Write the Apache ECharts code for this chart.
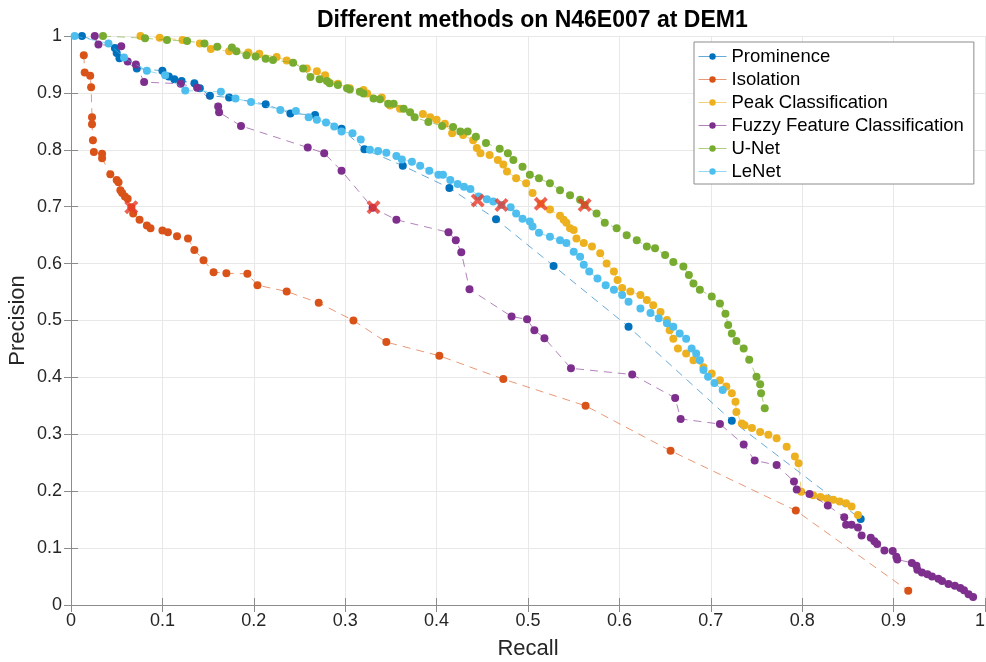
<!DOCTYPE html>
<html><head><meta charset="utf-8">
<script src="https://cdn.jsdelivr.net/npm/echarts@6/dist/echarts.min.js"></script>
<style>html,body{margin:0;padding:0;background:#fff}#c{width:986px;height:662px}</style>
</head><body><div id="c"></div>
<script>
const seriesNames = ['Prominence','Isolation','Peak Classification','Fuzzy Feature Classification','U-Net','LeNet'];
const xTicks = [0,0.1,0.2,0.3,0.4,0.5,0.6,0.7,0.8,0.9,1];
const yTicks = [0,0.1,0.2,0.3,0.4,0.5,0.6,0.7,0.8,0.9,1];

const prominence = [[0.012,1.0],[0.048,0.979],[0.05,0.97],[0.053,0.961],[0.072,0.943],[0.1,0.939],[0.107,0.929],[0.113,0.924],[0.121,0.921],[0.135,0.917],[0.141,0.908],[0.152,0.895],[0.173,0.892],[0.213,0.88],[0.24,0.864],[0.267,0.861],[0.296,0.837],[0.321,0.801],[0.363,0.772],[0.414,0.733],[0.465,0.678],[0.528,0.596],[0.61,0.489],[0.723,0.324],[0.864,0.151]];

const isolation = [[0.014,0.966],[0.015,0.936],[0.021,0.93],[0.022,0.91],[0.023,0.857],[0.023,0.845],[0.024,0.817],[0.025,0.796],[0.034,0.793],[0.034,0.785],[0.043,0.757],[0.05,0.747],[0.052,0.743],[0.054,0.729],[0.056,0.724],[0.059,0.718],[0.062,0.714],[0.066,0.699],[0.068,0.688],[0.075,0.677],[0.083,0.667],[0.087,0.662],[0.1,0.658],[0.106,0.655],[0.116,0.648],[0.128,0.644],[0.135,0.624],[0.145,0.606],[0.156,0.585],[0.17,0.583],[0.193,0.582],[0.204,0.562],[0.236,0.551],[0.271,0.531],[0.309,0.5],[0.345,0.462],[0.403,0.438],[0.473,0.397],[0.563,0.35],[0.656,0.271],[0.793,0.166],[0.916,0.025]];

const peak = [[0.076,1.0],[0.097,0.997],[0.122,0.993],[0.141,0.987],[0.153,0.977],[0.173,0.973],[0.194,0.971],[0.206,0.969],[0.225,0.963],[0.236,0.957],[0.258,0.943],[0.269,0.938],[0.278,0.931],[0.292,0.916],[0.305,0.908],[0.32,0.905],[0.324,0.899],[0.34,0.892],[0.349,0.878],[0.36,0.872],[0.385,0.863],[0.393,0.857],[0.4,0.853],[0.409,0.846],[0.417,0.829],[0.429,0.826],[0.44,0.817],[0.444,0.803],[0.448,0.794],[0.458,0.791],[0.467,0.782],[0.473,0.774],[0.477,0.762],[0.487,0.75],[0.498,0.741],[0.505,0.724],[0.514,0.705],[0.524,0.695],[0.535,0.684],[0.539,0.677],[0.542,0.672],[0.546,0.662],[0.55,0.659],[0.553,0.644],[0.561,0.636],[0.57,0.63],[0.579,0.618],[0.586,0.6],[0.594,0.586],[0.598,0.571],[0.603,0.557],[0.612,0.551],[0.623,0.545],[0.63,0.536],[0.637,0.527],[0.645,0.515],[0.652,0.501],[0.655,0.483],[0.659,0.468],[0.664,0.451],[0.673,0.442],[0.681,0.43],[0.692,0.418],[0.701,0.407],[0.71,0.395],[0.717,0.384],[0.723,0.372],[0.727,0.357],[0.728,0.339],[0.734,0.319],[0.737,0.316],[0.745,0.311],[0.754,0.304],[0.763,0.299],[0.772,0.293],[0.783,0.278],[0.792,0.261],[0.796,0.249],[0.799,0.199],[0.812,0.193],[0.82,0.19],[0.827,0.187],[0.834,0.185],[0.841,0.182],[0.848,0.179],[0.854,0.173],[0.861,0.158]];

const fuzzy = [[0.026,1.0],[0.03,0.985],[0.055,0.982],[0.062,0.955],[0.071,0.95],[0.08,0.919],[0.12,0.916],[0.138,0.909],[0.161,0.876],[0.162,0.866],[0.186,0.842],[0.259,0.804],[0.277,0.794],[0.296,0.763],[0.33,0.698],[0.356,0.677],[0.413,0.655],[0.421,0.641],[0.427,0.62],[0.436,0.555],[0.482,0.507],[0.499,0.502],[0.507,0.483],[0.518,0.469],[0.547,0.416],[0.614,0.405],[0.661,0.364],[0.667,0.327],[0.71,0.318],[0.736,0.282],[0.748,0.254],[0.772,0.246],[0.791,0.217],[0.794,0.203],[0.808,0.195],[0.828,0.175],[0.846,0.154],[0.848,0.141],[0.854,0.141],[0.861,0.136],[0.865,0.122],[0.875,0.118],[0.879,0.112],[0.882,0.107],[0.89,0.096],[0.899,0.095],[0.903,0.085],[0.904,0.08],[0.92,0.074],[0.925,0.069],[0.926,0.062],[0.931,0.057],[0.937,0.054],[0.942,0.05],[0.949,0.046],[0.953,0.042],[0.96,0.037],[0.967,0.034],[0.973,0.03],[0.977,0.026],[0.982,0.019],[0.987,0.014]];

const unet = [[0.035,1.0],[0.081,0.996],[0.105,0.993],[0.127,0.991],[0.146,0.987],[0.16,0.981],[0.176,0.98],[0.181,0.973],[0.192,0.966],[0.202,0.964],[0.213,0.96],[0.221,0.958],[0.243,0.953],[0.254,0.943],[0.262,0.928],[0.272,0.924],[0.28,0.921],[0.283,0.917],[0.292,0.914],[0.302,0.908],[0.305,0.906],[0.316,0.902],[0.32,0.899],[0.331,0.89],[0.338,0.889],[0.347,0.881],[0.353,0.881],[0.364,0.872],[0.371,0.866],[0.376,0.857],[0.391,0.849],[0.406,0.842],[0.418,0.84],[0.426,0.832],[0.434,0.832],[0.443,0.823],[0.454,0.812],[0.469,0.802],[0.478,0.794],[0.484,0.782],[0.494,0.77],[0.502,0.756],[0.512,0.75],[0.524,0.741],[0.535,0.729],[0.546,0.72],[0.557,0.712],[0.562,0.703],[0.575,0.688],[0.584,0.672],[0.597,0.662],[0.608,0.65],[0.619,0.641],[0.63,0.63],[0.639,0.627],[0.65,0.615],[0.659,0.603],[0.67,0.595],[0.676,0.58],[0.681,0.565],[0.688,0.554],[0.701,0.542],[0.71,0.53],[0.716,0.512],[0.719,0.492],[0.723,0.477],[0.728,0.464],[0.736,0.451],[0.742,0.431],[0.75,0.401],[0.754,0.388],[0.755,0.372],[0.759,0.346]];

const lenet = [[0.004,1.0],[0.041,0.987],[0.058,0.962],[0.083,0.939],[0.103,0.931],[0.125,0.904],[0.164,0.902],[0.18,0.89],[0.197,0.884],[0.229,0.87],[0.246,0.868],[0.26,0.857],[0.269,0.853],[0.279,0.848],[0.288,0.841],[0.296,0.832],[0.308,0.829],[0.317,0.818],[0.327,0.8],[0.336,0.798],[0.345,0.795],[0.356,0.789],[0.362,0.783],[0.373,0.779],[0.382,0.772],[0.392,0.763],[0.402,0.756],[0.407,0.756],[0.415,0.747],[0.423,0.74],[0.43,0.735],[0.437,0.731],[0.446,0.718],[0.455,0.713],[0.462,0.709],[0.471,0.703],[0.481,0.699],[0.487,0.688],[0.494,0.679],[0.502,0.674],[0.505,0.665],[0.512,0.654],[0.524,0.647],[0.535,0.641],[0.542,0.636],[0.55,0.621],[0.557,0.612],[0.561,0.598],[0.567,0.586],[0.576,0.574],[0.585,0.562],[0.594,0.554],[0.603,0.545],[0.61,0.533],[0.623,0.521],[0.634,0.513],[0.643,0.504],[0.652,0.495],[0.659,0.489],[0.666,0.477],[0.673,0.468],[0.679,0.451],[0.684,0.442],[0.688,0.43],[0.692,0.413],[0.697,0.401],[0.704,0.39],[0.713,0.378]];

const crossPoints = [[0.066,0.699],[0.331,0.699],[0.445,0.711],[0.471,0.703],[0.514,0.705],[0.562,0.703]];

const colors = ['#0072BD','#D95319','#EDB120','#7E2F8E','#77AC30','#4DBEEE'];
const allData = [prominence, isolation, peak, fuzzy, unet, lenet];
const FONT = '"Liberation Sans", Arial, Helvetica, sans-serif';

const chart = echarts.init(document.getElementById('c'));
const series = seriesNames.map((n,i)=>({
  name:n, type:'line', data:allData[i], symbol:'circle', symbolSize:8,
  itemStyle:{color:colors[i]},
  lineStyle:{color:colors[i], width:1, type:[8,6], opacity:0.6},
  emphasis:{disabled:true}, animation:false, z:2+i
}));
series.push({
  name:'cross', type:'scatter', data:crossPoints,
  symbol:'path://M0,2 L2,0 L5,3 L8,0 L10,2 L7,5 L10,8 L8,10 L5,7 L2,10 L0,8 L3,5 Z',
  symbolSize:14, itemStyle:{color:'#E8392B'}, z:20, animation:false
});
const axisCommon = {
  min:0, max:1, interval:0.1,
  axisLine:{show:true, lineStyle:{color:'#8c8c8c', width:1}},
  axisTick:{show:true, inside:true, length:7, lineStyle:{color:'#8c8c8c'}},
  splitLine:{show:true, lineStyle:{color:'#e8e8e8', width:1}},
  axisLabel:{color:'#262626', fontSize:18, fontFamily:FONT},
  nameTextStyle:{color:'#262626', fontSize:22, fontFamily:FONT}
};
chart.setOption({
  animation:false,
  backgroundColor:'#fff',
  title:{text:'Different methods on N46E007 at DEM1', left:312, top:4,
    textStyle:{fontSize:23, fontWeight:'bold', color:'#000', fontFamily:FONT}},
  grid:{left:71, right:1, top:36, bottom:57, outerBoundsMode:'none'},
  legend:{data:seriesNames, orient:'vertical', left:694, top:42,
    itemWidth:28, itemHeight:8, itemGap:4, padding:[5,10,3,4],
    lineStyle:{type:'solid', width:1},
    borderColor:'#8c8c8c', borderWidth:1, backgroundColor:'#fff', borderRadius:0,
    textStyle:{fontSize:18.5, lineHeight:18, color:'#000', fontFamily:FONT}},
  xAxis:[
    Object.assign({}, axisCommon, {type:'value', position:'bottom', name:'Recall', nameLocation:'middle', nameGap:33, nameMoveOverlap:false,
      axisLabel:Object.assign({}, axisCommon.axisLabel, {margin:7, alignMaxLabel:'right', formatter:v=>String(v)})}),
    Object.assign({}, axisCommon, {type:'value', position:'top', axisLabel:{show:false}, splitLine:{show:false}})
  ],
  yAxis:[
    Object.assign({}, axisCommon, {type:'value', position:'left', name:'Precision', nameLocation:'middle', nameGap:42, nameMoveOverlap:false,
      axisLabel:Object.assign({}, axisCommon.axisLabel, {margin:9, formatter:v=>String(v)})}),
    Object.assign({}, axisCommon, {type:'value', position:'right', axisLabel:{show:false}, splitLine:{show:false}})
  ],
  series:series
});
</script></body></html>
